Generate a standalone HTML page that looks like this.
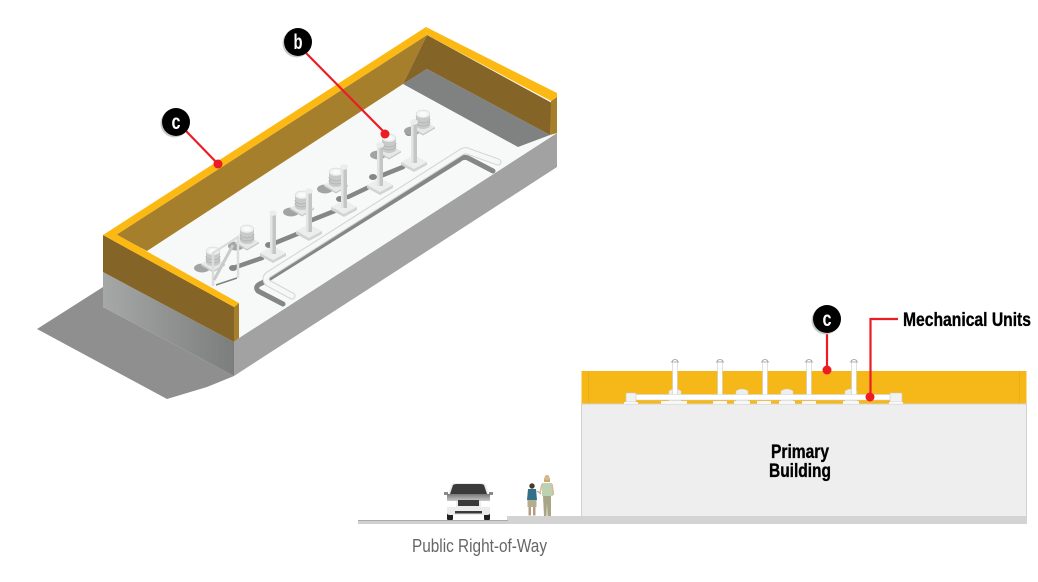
<!DOCTYPE html>
<html><head><meta charset="utf-8"><style>html,body{margin:0;padding:0;background:#fff}svg{display:block}text{font-family:"Liberation Sans",sans-serif}</style></head><body>
<svg width="1038" height="582" viewBox="0 0 1038 582" xmlns="http://www.w3.org/2000/svg">
<defs>
<linearGradient id="gw" x1="0" y1="0" x2="1" y2="0"><stop offset="0" stop-color="#a6a8a7"/><stop offset="1" stop-color="#7c7e7d"/></linearGradient>
<linearGradient id="hood" x1="0" y1="0" x2="0" y2="1"><stop offset="0" stop-color="#777"/><stop offset="1" stop-color="#c8c8c8"/></linearGradient>
<g id="fan">
<ellipse cx="-11" cy="11" rx="8" ry="4.500" fill="#a2a4a3"/>
<path d="M-12 7 L0 14 L12 7 L0 0Z" fill="#e6e7e7"/>
<path d="M-12 7 L0 14 L12 7 V8.500 L0 15.500 L-12 8.500Z" fill="#c6c7c7"/>
<path d="M-7 -6 v11 a7 4 0 0 0 14 0 v-11Z" fill="#c8c9c9"/>
<path d="M-7 -1 a7 4 0 0 0 14 0 M-7 2 a7 4 0 0 0 14 0" fill="none" stroke="#aeb0af" stroke-width=".8"/>
<ellipse cx="0" cy="-6" rx="7" ry="4" fill="#f0f1f1" stroke="#cfd0d0" stroke-width=".5"/>
<ellipse cx="0" cy="-6" rx="4" ry="2.200" fill="#fafafa"/>
</g>
<g id="post">
<path d="M-13 40 L0 47 L13 40 L0 33Z" fill="#eceded"/>
<path d="M-13 40 L0 47 L13 40 V43 L0 50 L-13 43Z" fill="#d2d3d3"/>
<rect x="-3" y="0" width="6" height="41" fill="#c4c5c5"/>
<rect x="-3" y="0" width="2.500" height="41" fill="#e4e4e4"/>
<ellipse cx="0" cy="0" rx="4" ry="2.800" fill="#ececec"/>
</g>
<g id="vent">
<rect x="-2.500" y="1" width="5" height="40" fill="#fff" stroke="#c2c2c2" stroke-width=".5"/>
<path d="M-3.500 3 Q0 -2 3.500 3Z" fill="#fff" stroke="#9a9a9a" stroke-width=".7"/>
</g>
<g id="unit">
<path d="M-6 -3 Q0 -7 6 -3 V7 H-6Z" fill="#eeeeee" stroke="#d6d6d6" stroke-width=".5"/>
<rect x="-8" y="7" width="16" height="3" fill="#f7f7f7"/>
</g>
</defs>

<!-- ground shadow -->
<polygon points="37,329 103,287 103,307 234,376 207,387 167,399" fill="#8e8f8e"/>
<!-- lower walls -->
<polygon points="103,272 234,342 234,376 103,307" fill="url(#gw)"/>
<polygon points="234,342 239,338 557,133 557,167 234,376" fill="#a2a2a2"/>
<!-- roof floor -->
<polygon points="147,251 403,84 518,147 550,135 557,133 239,338 239,303" fill="#f7f9f9"/>
<!-- grey shadow at far wall -->
<polygon points="403,84 427,69 550,135 518,147" fill="#808281"/>
<!-- inner walls -->
<polygon points="116,235 427,35 403,84 147,251" fill="#a67f2c"/>
<polygon points="427,35 552,103 550,135 427,69 403,84" fill="#846427"/>
<polygon points="551,101 557,97 557,133 550,135" fill="#a67f2c"/>
<!-- near parapet -->
<polygon points="103,235 234,307 234,342 103,272" fill="#846427"/>
<polygon points="234,307 239,303 239,338 234,342" fill="#a67f2c"/>
<!-- yellow caps -->
<polygon points="103,235 426,27 427,35 116,235" fill="#fdb913"/>
<polygon points="426,27 557,93 557,97 551,101 427,35" fill="#fdb913"/>
<polygon points="103,235 116,234 239,303 234,307" fill="#fdb913"/>

<!-- pipe shadows -->
<g fill="none" stroke="#858786" stroke-width="4.500" stroke-linecap="round" stroke-linejoin="round">
<path d="M233 268 L262 258"/>
<path d="M270 245 L302 232"/>
<path d="M312 220 L337 210"/>
<path d="M348 197 L367 188"/>
<path d="M383 175 L403 167"/>
<path d="M283 304 L258 291 Q254 286 262 283 L459 160 Q463 156 468 158 L493 171" stroke-width="5"/>
</g>
<g fill="#858786">
<ellipse cx="233" cy="268" rx="4" ry="3"/>
<ellipse cx="269" cy="245" rx="4" ry="3"/>
<ellipse cx="304" cy="221" rx="0" ry="0"/>
<ellipse cx="340" cy="199" rx="4" ry="3"/>
<ellipse cx="373" cy="177" rx="4" ry="3"/>
<ellipse cx="409" cy="133" rx="4" ry="3"/>
</g>
<!-- long pipe -->
<g fill="none" stroke-linecap="round" stroke-linejoin="round">
<path d="M292 296 L268 283 Q264 279 268 275 L460 153 Q465 149 470 152 L498 162" stroke="#d2d3d3" stroke-width="7"/>
<path d="M292 296 L268 283 Q264 279 268 275 L460 153 Q465 149 470 152 L498 162" stroke="#f6f7f7" stroke-width="5"/>
</g>
<!-- fans and posts -->
<use href="#fan" x="423" y="120"/>
<use href="#post" x="414" y="122"/>
<use href="#fan" x="389" y="144"/>
<use href="#post" x="380" y="145"/>
<use href="#fan" x="336" y="178"/>
<use href="#post" x="344" y="167"/>
<use href="#fan" x="302" y="201"/>
<use href="#post" x="309" y="191"/>
<use href="#fan" x="247" y="235"/>
<use href="#post" x="273" y="213"/>
<use href="#fan" x="213" y="257"/>
<!-- frame unit -->
<g fill="none" stroke="#dcdddd" stroke-width="2.500">
<path d="M213 286 V253 L238 237 V278"/>
<path d="M214 280 L233 245" stroke="#c9caca" stroke-width="3"/>
</g>
<path d="M216 285 L237 278" stroke="#808281" stroke-width="1.500"/>

<!-- leaders left -->
<g stroke="#ed1c24" stroke-width="2.200" fill="none">
<path d="M186 131 L218 164"/>
<path d="M306 53 L385 133"/>
</g>
<circle cx="218" cy="164" r="4.500" fill="#ed1c24"/>
<circle cx="385" cy="134" r="4.500" fill="#ed1c24"/>

<!-- elevation -->
<rect x="581.500" y="371" width="445" height="33" fill="#f5b818"/>
<path d="M588.500 371 V404 M1019.500 371 V404" stroke="#e9ad17" stroke-width="1"/>
<rect x="581.500" y="404" width="445" height="113" fill="#eeeeee" stroke="#d2d2d2" stroke-width="1"/>
<rect x="507" y="516" width="520" height="8" fill="#d3d3d3"/>
<rect x="358" y="520" width="150" height="4" fill="#d0d0d0"/>
<rect x="358" y="520" width="150" height="1" fill="#a9a9a9"/>

<use href="#unit" x="675" y="394"/>
<use href="#unit" x="742" y="394"/>
<use href="#unit" x="787" y="394"/>
<use href="#unit" x="851" y="394"/>
<rect x="661" y="401" width="26" height="3" fill="#f7f7f7"/>
<rect x="713" y="401" width="14" height="3" fill="#f7f7f7"/>
<rect x="757" y="401" width="14" height="3" fill="#f7f7f7"/>
<rect x="802" y="401" width="14" height="3" fill="#f7f7f7"/>
<rect x="626" y="393" width="10" height="9" fill="#f2f2f2" stroke="#c9c9c9" stroke-width=".6"/>
<rect x="624" y="402" width="14" height="2" fill="#f7f7f7"/>
<rect x="890" y="393" width="12" height="9" fill="#f2f2f2" stroke="#c9c9c9" stroke-width=".6"/>
<rect x="889" y="402" width="14" height="2" fill="#f7f7f7"/>
<use href="#vent" x="675" y="359"/>
<use href="#vent" x="720" y="359"/>
<use href="#vent" x="765" y="359"/>
<use href="#vent" x="809" y="359"/>
<use href="#vent" x="854" y="359"/>
<rect x="636" y="394.500" width="254" height="5.500" fill="#fff" stroke="#cfcfcf" stroke-width=".5"/>

<!-- leaders right -->
<g stroke="#ed1c24" stroke-width="2.200" fill="none">
<path d="M827 333 V370"/>
<path d="M870.500 397 V319 H898"/>
</g>
<circle cx="827" cy="370" r="4.500" fill="#ed1c24"/>
<circle cx="870" cy="397" r="4.500" fill="#ed1c24"/>

<!-- callouts -->
<g>
<circle cx="174.500" cy="123.500" r="14" fill="#c9c9c9"/><circle cx="176" cy="122" r="14" fill="#000"/>
<circle cx="296.500" cy="43.500" r="14" fill="#c9c9c9"/><circle cx="298" cy="42" r="14" fill="#000"/>
<circle cx="825.500" cy="320.500" r="14" fill="#c9c9c9"/><circle cx="827" cy="319" r="14" fill="#000"/>
</g>
<g fill="#fff" font-weight="700" font-size="21">
<text x="171.500" y="129" textLength="9" lengthAdjust="spacingAndGlyphs">c</text>
<text x="293.500" y="49" textLength="9" lengthAdjust="spacingAndGlyphs">b</text>
<text x="822.500" y="326" textLength="9" lengthAdjust="spacingAndGlyphs">c</text>
</g>

<!-- labels -->
<g stroke="#000" stroke-width=".35" fill="#000" font-size="19" font-weight="700">
<text x="903" y="326" textLength="128" lengthAdjust="spacingAndGlyphs">Mechanical Units</text>
<text x="771" y="458" textLength="58" lengthAdjust="spacingAndGlyphs">Primary</text>
<text x="769" y="477" textLength="62" lengthAdjust="spacingAndGlyphs">Building</text>
</g>
<text x="412" y="552" font-size="18" fill="#666" textLength="135" lengthAdjust="spacingAndGlyphs">Public Right-of-Way</text>

<!-- car -->
<g>
<rect x="447" y="510" width="6" height="10" rx="1" fill="#222"/>
<rect x="484" y="510" width="6" height="10" rx="1" fill="#222"/>
<path d="M447 499 L451 485 Q452 483 456 483 H481 Q485 483 486 485 L490 499 V513 Q490 515 487 515 H450 Q447 515 447 513Z" fill="#ececec"/>
<path d="M450 494 L453 485 Q454 484 457 484 H480 Q483 484 484 485 L487 494Z" fill="#3a3a3a"/>
<rect x="444" y="492" width="4" height="3" fill="#8a8a8a"/>
<rect x="489" y="492" width="4" height="3" fill="#8a8a8a"/>
<rect x="447" y="494" width="43" height="7" fill="url(#hood)"/>
<rect x="447" y="501" width="9" height="6" fill="#fff"/>
<rect x="481" y="501" width="9" height="6" fill="#fff"/>
<rect x="458" y="500" width="21" height="6" fill="#3a3a3a"/>
<rect x="455" y="511" width="27" height="2.500" fill="#3a3a3a"/>
</g>
<!-- people -->
<g>
<circle cx="532" cy="486" r="2.700" fill="#4a3a2c"/>
<path d="M528 489 H536 L537 500 H527Z" fill="#33708a"/>
<rect x="527.500" y="500" width="9" height="7" fill="#b5ad8e"/>
<rect x="528.500" y="507" width="2.500" height="8.500" fill="#b89c80"/>
<rect x="533" y="507" width="2.500" height="8.500" fill="#b89c80"/>
<path d="M537 491 L541 494" stroke="#c9a98c" stroke-width="1.200"/>
<path d="M544 482 Q544 475 547 475 Q550 475 550 482Z" fill="#c9a868"/>
<circle cx="547" cy="478" r="2.200" fill="#d8b898"/>
<path d="M542 483 H552 L553 496 H542Z" fill="#bcd2b0"/>
<path d="M543 496 H551 L551 516 H547.500 L547 503 L546.500 516 H544Z" fill="#a8a486"/>
<path d="M542 484 L540 493" stroke="#d8b898" stroke-width="1.500"/>
<path d="M552 484 L553.500 495" stroke="#d8b898" stroke-width="1.500"/>
</g>
</svg>
</body></html>
